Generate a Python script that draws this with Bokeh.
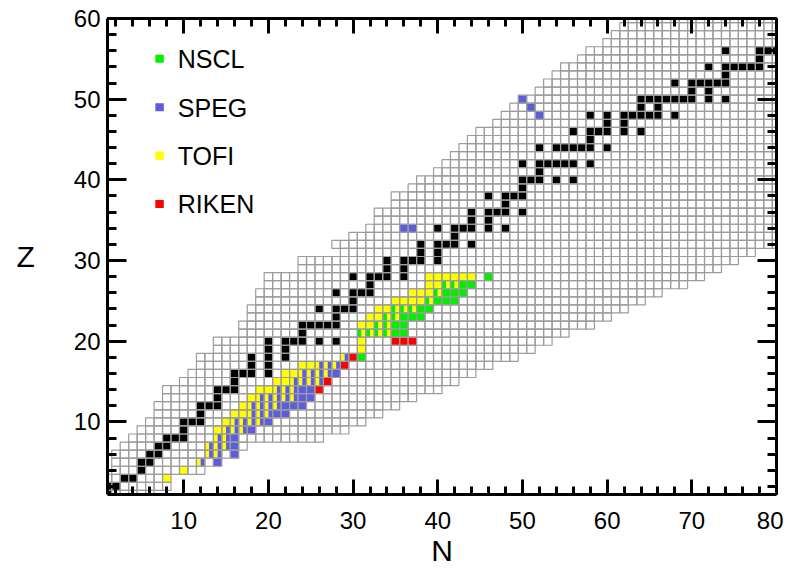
from bokeh.plotting import figure
from bokeh.models import Range1d, LinearAxis, FixedTicker
from bokeh.embed import file_html
from bokeh.resources import INLINE
from bokeh.core.properties import value

FONT = "Liberation Sans"

# ---------------- data ----------------
# grey grid of nuclides: for each Z, lowest and highest N
grid_z = [1, 2, 3, 4, 5, 6, 7, 8, 9, 10,
          11, 12, 13, 14, 15, 16, 17, 18, 19, 20,
          21, 22, 23, 24, 25, 26, 27, 28, 29, 30,
          31, 32, 33, 34, 35, 36, 37, 38, 39, 40,
          41, 42, 43, 44, 45, 46, 47, 48, 49, 50,
          51, 52, 53, 54, 55, 56, 57, 58, 59, 60]
grid_nlo = [0, 1, 1, 2, 2, 2, 3, 4, 5, 6,
            7, 7, 8, 8, 10, 11, 12, 12, 14, 14,
            17, 17, 18, 18, 19, 19, 20, 20, 24, 24,
            29, 28, 30, 32, 33, 33, 35, 35, 37, 38,
            40, 41, 42, 43, 44, 45, 47, 48, 49, 50,
            52, 53, 54, 55, 57, 58, 60, 61, 62, 63]
grid_nhi = [6, 8, 8, 12, 14, 16, 17, 26, 29, 31,
            33, 35, 37, 40, 42, 44, 46, 49, 51, 53,
            55, 58, 60, 62, 64, 66, 69, 71, 73, 75,
            77, 80, 80, 80, 80, 80, 80, 80, 80, 80,
            80, 80, 80, 80, 80, 80, 80, 80, 80, 80,
            80, 80, 80, 80, 80, 80, 80, 80, 80, 80]

# stable nuclides (N, Z)
stable_cells = [(0, 1), (1, 1), (1, 2), (2, 2), (3, 3), (4, 3), (5, 4), (5, 5), (6, 5),
                (6, 6), (7, 6), (7, 7), (8, 7), (8, 8), (9, 8), (10, 8), (10, 9),
                (10, 10), (11, 10), (12, 10), (12, 11), (12, 12), (13, 12), (14, 12),
                (14, 13), (14, 14), (15, 14), (16, 14), (16, 15),
                (16, 16), (17, 16), (18, 16), (20, 16), (18, 17), (20, 17),
                (18, 18), (20, 18), (22, 18), (20, 19), (22, 19),
                (20, 20), (22, 20), (23, 20), (24, 20), (26, 20), (28, 20), (24, 21),
                (24, 22), (25, 22), (26, 22), (27, 22), (28, 22), (28, 23),
                (26, 24), (28, 24), (29, 24), (30, 24), (30, 25),
                (28, 26), (30, 26), (31, 26), (32, 26), (32, 27),
                (30, 28), (32, 28), (33, 28), (34, 28), (36, 28), (34, 29), (36, 29),
                (34, 30), (36, 30), (37, 30), (38, 30), (40, 30), (38, 31), (40, 31),
                (38, 32), (40, 32), (41, 32), (42, 32), (44, 32), (42, 33),
                (40, 34), (42, 34), (43, 34), (44, 34), (46, 34), (48, 34), (44, 35), (46, 35),
                (44, 36), (46, 36), (47, 36), (48, 36), (50, 36), (48, 37),
                (46, 38), (48, 38), (49, 38), (50, 38), (50, 39),
                (50, 40), (51, 40), (52, 40), (54, 40), (56, 40), (52, 41),
                (50, 42), (52, 42), (53, 42), (54, 42), (55, 42), (56, 42), (58, 42),
                (52, 44), (54, 44), (55, 44), (56, 44), (57, 44), (58, 44), (60, 44), (58, 45),
                (56, 46), (58, 46), (59, 46), (60, 46), (62, 46), (64, 46), (60, 47), (62, 47),
                (58, 48), (60, 48), (62, 48), (63, 48), (64, 48), (65, 48), (66, 48), (68, 48),
                (64, 49), (66, 49),
                (64, 50), (65, 50), (66, 50), (67, 50), (68, 50), (69, 50), (70, 50), (72, 50), (74, 50),
                (70, 51), (72, 51),
                (68, 52), (70, 52), (71, 52), (72, 52), (73, 52), (74, 52), (74, 53),
                (72, 54), (74, 54), (75, 54), (76, 54), (77, 54), (78, 54), (78, 55),
                (74, 56), (78, 56), (79, 56), (80, 56)]

# measured masses (N, Z) per facility
nscl_cells = [(31, 18), (31, 21), (32, 21), (33, 21), (34, 21), (35, 21), (36, 21),
              (33, 22), (34, 22), (35, 22), (36, 22), (34, 23), (35, 23), (36, 23), (37, 23), (38, 23),
              (35, 24), (36, 24), (37, 24), (38, 24), (39, 24), (39, 25), (40, 25), (41, 25), (42, 25),
              (40, 26), (41, 26), (42, 26), (43, 26), (41, 27), (42, 27), (43, 27), (44, 27), (46, 28)]
tofi_cells = [(8, 3), (10, 4), (12, 5), (13, 6), (14, 6), (13, 7), (14, 7), (15, 7), (14, 8), (15, 8),
              (14, 9), (15, 9), (16, 9), (17, 9), (15, 10), (16, 10), (17, 10), (18, 10), (19, 10),
              (16, 11), (17, 11), (18, 11), (19, 11), (20, 11), (17, 12), (18, 12), (19, 12), (20, 12), (21, 12),
              (18, 13), (19, 13), (20, 13), (21, 13), (22, 13), (23, 13),
              (19, 14), (20, 14), (21, 14), (22, 14), (23, 14),
              (21, 15), (22, 15), (23, 15), (24, 15), (25, 15), (26, 15),
              (22, 16), (23, 16), (24, 16), (25, 16), (26, 16), (27, 16),
              (24, 17), (25, 17), (26, 17), (27, 17), (28, 17), (29, 18), (31, 19), (31, 20),
              (31, 21), (32, 21), (33, 21), (34, 21), (31, 22), (32, 22), (33, 22), (34, 22),
              (32, 23), (33, 23), (34, 23), (35, 23), (33, 24), (34, 24), (35, 24), (36, 24), (37, 24),
              (35, 25), (36, 25), (37, 25), (38, 25), (39, 25), (37, 26), (38, 26), (39, 26), (40, 26),
              (39, 27), (40, 27), (41, 27), (42, 27),
              (39, 28), (40, 28), (41, 28), (42, 28), (43, 28), (44, 28)]
speg_cells = [(12, 5), (14, 5), (13, 6), (14, 6), (16, 6), (13, 7), (14, 7), (15, 7), (16, 7),
              (14, 8), (15, 8), (16, 8), (15, 9), (16, 9), (17, 9), (18, 9),
              (16, 10), (17, 10), (18, 10), (19, 10), (20, 10),
              (18, 11), (19, 11), (20, 11), (21, 11), (22, 11),
              (18, 12), (19, 12), (20, 12), (21, 12), (22, 12), (23, 12), (24, 12),
              (19, 13), (20, 13), (21, 13), (22, 13), (23, 13), (24, 13), (25, 13),
              (21, 14), (22, 14), (23, 14), (24, 14), (25, 14),
              (23, 15), (24, 15), (25, 15), (26, 15), (24, 16), (25, 16), (26, 16), (27, 16), (28, 16),
              (26, 17), (27, 17), (28, 17), (29, 18), (36, 34), (37, 34), (52, 48), (51, 49), (50, 50)]
riken_cells = [(26, 14), (27, 15), (29, 17), (30, 18), (35, 20), (36, 20), (37, 20)]

facilities = ["NSCL", "SPEG", "TOFI", "RIKEN"]
fac_colors = ["#00f000", "#5c5cdc", "#ffff00", "#ff0000"]
x_major = [10, 20, 30, 40, 50, 60, 70, 80]
x_minor = [2, 4, 6, 8, 12, 14, 16, 18, 22, 24, 26, 28, 32, 34, 36, 38, 42, 44, 46, 48,
           52, 54, 56, 58, 62, 64, 66, 68, 72, 74, 76, 78]
y_major = [10, 20, 30, 40, 50, 60]
y_minor = [2, 4, 6, 8, 12, 14, 16, 18, 22, 24, 26, 28, 32, 34, 36, 38, 42, 44, 46, 48,
           52, 54, 56, 58]

# ---------------- figure ----------------
p = figure(width=783, height=573, x_range=Range1d(1, 80), y_range=Range1d(1, 60),
           output_backend="svg", toolbar_location=None,
           min_border_left=107, min_border_right=7, min_border_top=18, min_border_bottom=79)
p.grid.visible = False
p.outline_line_color = None
p.background_fill_color = "white"

# coloured cells (split cell when measured by two facilities)
cell_cells = {"NSCL": nscl_cells, "TOFI": tofi_cells, "SPEG": speg_cells, "RIKEN": riken_cells}
col_of = dict(zip(facilities, fac_colors))
order = ["NSCL", "TOFI", "SPEG", "RIKEN"]
owners = {}
for f in order:
    for c in cell_cells[f]:
        owners.setdefault(c, []).append(f)
cx, cy, cw, cc = [], [], [], []
for (n, z), fs in owners.items():
    k = len(fs)
    for i, f in enumerate(fs):
        w = 1.0 / k
        cx.append(n - 0.5 + w * (i + 0.5))
        cy.append(z)
        cw.append(w)
        cc.append(col_of[f])
p.rect(x=cx, y=cy, width=cw, height=1, fill_color=cc, line_color=None)

# stable nuclides
p.rect(x=[c[0] for c in stable_cells], y=[c[1] for c in stable_cells], width=1, height=1,
       fill_color="black", line_color=None)

# grey grid on top
gx, gy = [], []
for z, lo, hi in zip(grid_z, grid_nlo, grid_nhi):
    for n in range(lo, hi + 1):
        gx.append(n)
        gy.append(z)
p.rect(x=gx, y=gy, width=1, height=1, fill_color=None, line_color="#9c9c9c", line_width=1.2)

# legend (drawn as cells + text)
leg_x = [7.15, 7.15, 7.15, 7.15]
leg_y = [55.0, 49.0, 43.0, 37.0]
p.rect(x=leg_x, y=leg_y, width=1, height=1, fill_color=fac_colors, line_color=None)
p.text(x=[9.3, 9.3, 9.3, 9.3], y=[54.95, 48.95, 42.95, 36.95], text=facilities, text_font=value(FONT),
       text_font_size="25px", text_baseline="middle", text_align="left", text_color="black")


# axes
def style(ax, major_len, minor_len):
    ax.axis_line_width = 3
    ax.axis_line_color = "black"
    ax.major_tick_in = major_len
    ax.major_tick_out = 0
    ax.minor_tick_in = minor_len
    ax.minor_tick_out = 0
    ax.major_tick_line_width = 3
    ax.minor_tick_line_width = 3
    ax.major_tick_line_color = "black"
    ax.minor_tick_line_color = "black"
    ax.major_label_text_font = FONT
    ax.major_label_text_font_size = "24px"
    ax.major_label_text_color = "black"
    ax.axis_label_text_font = FONT
    ax.axis_label_text_font_size = "30px"
    ax.axis_label_text_font_style = "normal"
    ax.axis_label_text_color = "black"


p.xaxis.ticker = FixedTicker(ticks=x_major, minor_ticks=x_minor)
p.yaxis.ticker = FixedTicker(ticks=y_major, minor_ticks=y_minor)
style(p.xaxis[0], 15, 8)
style(p.yaxis[0], 19, 9)
p.xaxis.major_label_standoff = 17
p.yaxis.major_label_standoff = 7
p.xaxis.axis_label = "N"
p.xaxis.axis_label_standoff = 2
p.yaxis.axis_label = "Z"
p.yaxis.axis_label_orientation = "horizontal"
p.yaxis.axis_label_standoff = 36


def tick_only_axis(ticks, length):
    ax = LinearAxis(ticker=FixedTicker(ticks=[], minor_ticks=ticks))
    ax.axis_line_width = 3
    ax.axis_line_color = "black"
    ax.major_tick_in = 0
    ax.major_tick_out = 0
    ax.minor_tick_in = length
    ax.minor_tick_out = 0
    ax.minor_tick_line_width = 3
    ax.minor_tick_line_color = "black"
    ax.major_label_standoff = 0
    return ax


p.add_layout(tick_only_axis(x_minor, 8), "above")
p.add_layout(tick_only_axis(x_major, 15), "above")
p.add_layout(tick_only_axis(y_minor, 9), "right")
p.add_layout(tick_only_axis(y_major, 19), "right")

open("out.html", "w").write(file_html(p, INLINE))
